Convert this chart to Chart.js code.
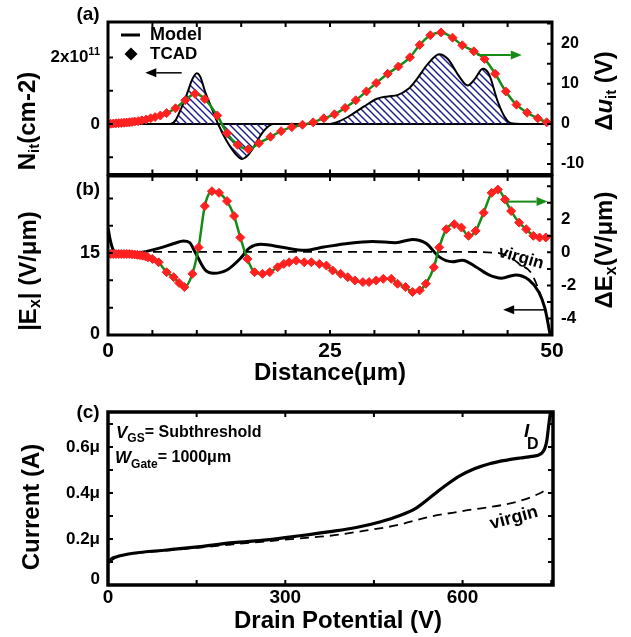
<!DOCTYPE html>
<html>
<head>
<meta charset="utf-8">
<script src="https://cdn.jsdelivr.net/npm/chart.js@4.4.1/dist/chart.umd.min.js"></script>
<style>
  body { margin: 0; background: #fff; }
  #wrap { position: relative; width: 631px; height: 637px; }
  canvas { position: absolute; left: 0; }
</style>
</head>
<body>
<div id="wrap">
  <canvas id="chartA" width="631" height="180" style="top:0"></canvas>
  <canvas id="chartB" width="631" height="215" style="top:170px"></canvas>
  <canvas id="chartC" width="631" height="252" style="top:385px"></canvas>
</div>
<script>
// ---- (a) interface trap density (model) and trap potential shift (TCAD)
const nitDist  = [0, 5, 7.0, 7.6, 8.3, 8.9, 9.5, 10.0, 10.4, 10.9, 11.7, 12.4, 13.4, 14.3, 15.1, 15.8, 16.2, 17.5, 18.6, 24.7,
                  26.0, 27.3, 28.8, 30.3, 31.5, 32.6, 33.8, 34.8, 36.0, 37.3, 38.3, 39.5, 40.5, 41.3, 42.2, 42.9, 43.9, 44.7, 45.4, 46.5, 50];
const nitModel = [0, 0, 0, 0.11, 0.51, 0.91, 1.35, 1.53, 1.42, 1.0, 0.46, 0, -0.53, -0.88, -1.05, -0.93, -0.78, -0.22, 0, 0,
                  0.08, 0.26, 0.52, 0.76, 0.83, 0.87, 1.05, 1.36, 1.8, 2.10, 1.95, 1.45, 1.16, 1.35, 1.66, 1.5, 0.67, 0.2, 0.02, 0, 0]; // x1e11 cm-2
const duDist = [0, 0.3, 0.6, 0.9, 1.2, 1.5, 1.8, 2.1, 2.4, 2.7, 3.0, 3.4, 3.8, 4.3, 4.8, 5.3, 5.9, 6.6, 7.6, 8.7, 9.8, 10.9,
                12.3, 13.4, 14.6, 15.8, 17.0, 18.3, 19.5, 20.7, 21.9, 23.1, 24.3, 25.5, 26.7, 27.9, 29.1, 30.2, 31.5, 32.7,
                34.0, 35.1, 36.3, 37.5, 38.8, 39.9, 41.2, 42.4, 43.6, 44.8, 46.0, 47.2, 48.4, 49.4];
const duTcad = [0, 0.05, 0.1, 0.15, 0.2, 0.25, 0.3, 0.35, 0.4, 0.5, 0.6, 0.7, 0.9, 1.1, 1.4, 1.7, 2.1, 2.7, 3.9, 5.9, 7.5, 6.2,
                2.1, -2.3, -5.2, -6.3, -4.8, -3.2, -1.8, -0.8, -0.2, 0.4, 1.4, 2.4, 4.0, 5.9, 8.1, 10.2, 12.5, 14.3,
                16.6, 19.7, 22.1, 22.8, 21.5, 19.6, 18.1, 16.2, 12.5, 8.1, 4.8, 2.8, 1.4, 0.4];

// ---- (b) lateral field, stressed model vs virgin, and TCAD difference
const exDist  = [0, 0.25, 0.6, 1.2, 3.2, 5.8, 7.5, 8.5, 9.2, 9.8, 10.9, 11.9, 13.4, 14.9, 16.0, 17.2, 19.8, 22.1, 24.3,
                 27.2, 29.8, 32.4, 34.3, 35.8, 37.3, 38.8, 39.9, 41.4, 42.9, 44.3, 45.9, 47.4, 48.5, 49.2, 49.8];
const exModel = [19.6, 17.4, 15.5, 14.9, 15.0, 15.9, 16.8, 17.2, 16.9, 15.2, 12.0, 11.3, 11.9, 14.0, 16.0, 16.6, 16.0, 15.5, 16.1,
                 16.8, 17.1, 16.9, 17.5, 16.8, 14.3, 13.4, 13.7, 12.5, 11.0, 10.4, 11.0, 10.1, 7.9, 4.9, 0];
const virginDist = [0, 10, 20, 30, 40, 44.0, 45.5, 46.5, 47.6, 48.5, 49.2, 49.8];
const virginEx   = [15.2, 15.2, 15.2, 15.2, 15.2, 15.0, 14.0, 12.8, 11.5, 8.3, 4.9, 0];
const dExDist = [0, 0.3, 0.6, 0.9, 1.2, 1.5, 1.8, 2.1, 2.4, 2.7, 3.0, 3.3, 3.6, 3.9, 4.2, 4.5, 5.0, 5.7, 6.6, 7.4, 8.0, 8.6,
                 9.5, 10.2, 10.9, 11.7, 12.5, 13.4, 14.2, 14.9, 15.7, 16.5, 17.4, 18.2, 19.1, 19.8, 20.4, 21.2, 22.1, 22.9,
                 23.8, 24.6, 25.3, 26.2, 27.0, 27.8, 28.7, 29.4, 30.2, 31.0, 31.9, 32.6, 33.5, 34.3, 35.1, 35.8, 36.7, 37.3,
                 38.1, 39.0, 39.8, 40.6, 41.4, 42.3, 43.2, 43.9, 44.7, 45.4, 46.3, 47.1, 47.9, 48.6, 49.3];
const dExTcad = [-0.1, -0.1, -0.1, -0.1, -0.1, -0.1, -0.1, -0.1, -0.1, -0.12, -0.13, -0.15, -0.17, -0.2, -0.23, -0.3, -0.4, -0.6,
                 -1.2, -1.5, -1.85, -2.1, -1.3, 0.3, 2.8, 3.7, 3.6, 3.1, 2.2, 0.9, -0.4, -1.2, -1.3, -1.2, -0.9, -0.7, -0.6,
                 -0.5, -0.6, -0.6, -0.7, -0.8, -1.1, -1.3, -1.5, -1.7, -1.8, -1.8, -1.7, -1.6, -1.6, -1.9, -2.1, -2.4, -2.3,
                 -1.9, -0.9, 0.3, 1.4, 1.7, 1.5, 1.0, 1.3, 2.4, 3.6, 3.8, 3.2, 2.5, 1.8, 1.4, 1.0, 0.9, 0.9];

// ---- (c) drain current vs drain potential (uA)
const drainV     = [0, 5, 15, 43, 99, 156, 212, 269, 325, 376, 420, 460, 494, 520, 545, 570, 596, 620, 647, 675, 697, 717, 734, 742, 746, 749];
const idStressed = [0.095, 0.112, 0.123, 0.138, 0.152, 0.167, 0.184, 0.196, 0.214, 0.232, 0.25, 0.274, 0.302, 0.332, 0.38,
                    0.43, 0.475, 0.505, 0.528, 0.543, 0.552, 0.559, 0.573, 0.62, 0.70, 0.76];
const virginV    = [0, 15, 43, 99, 156, 212, 269, 325, 376, 432, 489, 545, 602, 692, 731, 740];
const idVirgin   = [0.095, 0.122, 0.136, 0.150, 0.163, 0.177, 0.190, 0.203, 0.214, 0.235, 0.260, 0.297, 0.322, 0.362, 0.399, 0.413];

// tick positions
const distTicks = [0, 5, 10, 15, 20, 25, 30, 35, 40, 45, 50];
const distLabels = [0, 25, 50];
const nitTicks = [-1e11, 0, 1e11, 2e11];
const duTicks = [-10, -5, 0, 5, 10, 15, 20, 25];
const duLabels = [-10, 0, 10, 20];
const exTicks = [0, 5, 10, 15, 20, 25];
const exLabels = [0, 15];
const dExTicks = [-4, -3, -2, -1, 0, 1, 2, 3, 4];
const dExLabels = [-4, -2, 0, 2];
const vTicks = [0, 150, 300, 450, 600, 750];
const vLabels = [0, 300, 600];
const iTicks = [0, 0.1e-6, 0.2e-6, 0.3e-6, 0.4e-6, 0.5e-6, 0.6e-6, 0.7e-6];
const iLabels = [0, 0.2e-6, 0.4e-6, 0.6e-6];

const FONT = '"Liberation Sans", Arial, sans-serif';
const bold = s => `bold ${s}px ${FONT}`;
const ital = s => `italic bold ${s}px ${FONT}`;
const RED = '#ff2020', GREEN = '#168c16', NAVY = '#1b1b8e';

function pts(xs, ys, k) { return xs.map((x, i) => ({ x: x, y: ys[i] * (k || 1) })); }

// text made of pieces with their own font and vertical shift
function rich(ctx, parts, x, y, align, angle) {
  ctx.save();
  ctx.translate(x, y);
  ctx.rotate(angle || 0);
  ctx.textBaseline = 'middle';
  ctx.textAlign = 'left';
  let w = 0;
  parts.forEach(p => { ctx.font = p[1]; w += ctx.measureText(p[0]).width; });
  let cx = align === 'center' ? -w / 2 : align === 'right' ? -w : 0;
  ctx.fillStyle = '#000';
  parts.forEach(p => {
    ctx.font = p[1];
    ctx.fillText(p[0], cx, p[2] || 0);
    cx += ctx.measureText(p[0]).width;
  });
  ctx.restore();
}

function frame(ctx, a, lw) {
  ctx.strokeStyle = '#000';
  ctx.lineWidth = lw || 3;
  ctx.strokeRect(a.left, a.top, a.right - a.left, a.bottom - a.top);
}

function ticks(chart, id, values, side, len) {
  const ctx = chart.ctx, a = chart.chartArea, s = chart.scales[id];
  ctx.strokeStyle = '#000';
  ctx.lineWidth = 2;
  ctx.beginPath();
  values.forEach(v => {
    const p = s.getPixelForValue(v);
    if (side === 'left') { ctx.moveTo(a.left, p); ctx.lineTo(a.left + len, p); }
    if (side === 'right') { ctx.moveTo(a.right, p); ctx.lineTo(a.right - len, p); }
    if (side === 'top') { ctx.moveTo(p, a.top); ctx.lineTo(p, a.top + len); }
    if (side === 'bottom') { ctx.moveTo(p, a.bottom); ctx.lineTo(p, a.bottom - len); }
  });
  ctx.stroke();
}

function arrow(ctx, x1, y1, x2, y2, color, lw) {
  const ang = Math.atan2(y2 - y1, x2 - x1), hl = 11, hw = 4.5;
  const bx = x2 - hl * Math.cos(ang), by = y2 - hl * Math.sin(ang);
  ctx.strokeStyle = color;
  ctx.fillStyle = color;
  ctx.lineWidth = lw;
  ctx.beginPath(); ctx.moveTo(x1, y1); ctx.lineTo(bx, by); ctx.stroke();
  ctx.beginPath();
  ctx.moveTo(x2, y2);
  ctx.lineTo(bx + hw * Math.sin(ang), by - hw * Math.cos(ang));
  ctx.lineTo(bx - hw * Math.sin(ang), by + hw * Math.cos(ang));
  ctx.closePath();
  ctx.fill();
}

function hatch(ctx) {
  const s = 7, c = document.createElement('canvas');
  c.width = s; c.height = s;
  const g = c.getContext('2d');
  g.strokeStyle = NAVY;
  g.lineWidth = 1.4;
  g.beginPath();
  g.moveTo(-1, -1); g.lineTo(s + 1, s + 1);
  g.moveTo(-1, s - 1); g.lineTo(1, s + 1);
  g.moveTo(s - 1, -1); g.lineTo(s + 1, 1);
  g.stroke();
  return ctx.createPattern(c, 'repeat');
}

function baseOptions(pad, scales) {
  return {
    responsive: false,
    animation: false,
    events: [],
    layout: { padding: pad },
    plugins: { legend: { display: false }, tooltip: { enabled: false } },
    scales: scales
  };
}

const tcadStyle = {
  borderColor: GREEN, borderWidth: 2.5, cubicInterpolationMode: 'monotone',
  pointStyle: 'rectRot', pointRadius: 4.5, pointBackgroundColor: RED, pointBorderColor: RED, pointBorderWidth: 1
};

// ---------------- (a)
const ctxA = document.getElementById('chartA').getContext('2d');
new Chart(ctxA, {
  type: 'line',
  data: {
    datasets: [
      Object.assign({ label: 'TCAD', data: pts(duDist, duTcad), yAxisID: 'y2' }, tcadStyle),
      { label: 'Model', data: pts(nitDist, nitModel, 1e11), yAxisID: 'y', borderColor: '#000', borderWidth: 2,
        pointRadius: 0, cubicInterpolationMode: 'monotone', fill: 'origin', backgroundColor: hatch(ctxA) }
    ]
  },
  options: baseOptions({ left: 108, right: 79, top: 22, bottom: 4 }, {
    x: { type: 'linear', min: 0, max: 50, display: false },
    y: { min: -1.52e11, max: 3.07e11, display: false },
    y2: { position: 'right', min: -12.6, max: 25.4, display: false }
  }),
  plugins: [{
    id: 'panelA',
    beforeDatasetsDraw(chart) {
      const ctx = chart.ctx, a = chart.chartArea, y0 = chart.scales.y.getPixelForValue(0);
      ctx.save();
      ctx.strokeStyle = '#000'; ctx.lineWidth = 2;
      ctx.beginPath(); ctx.moveTo(a.left, y0); ctx.lineTo(a.right, y0); ctx.stroke();
      ctx.restore();
    },
    afterDraw(chart) {
      const ctx = chart.ctx, a = chart.chartArea, sc = chart.scales;
      ctx.save();
      frame(ctx, a);
      ticks(chart, 'x', distTicks, 'top', 5);
      ticks(chart, 'x', distTicks, 'bottom', 5);
      ticks(chart, 'y', nitTicks, 'left', 5);
      ticks(chart, 'y2', duTicks, 'right', 5);
      rich(ctx, [['0', bold(17)]], a.left - 8, sc.y.getPixelForValue(0), 'right');
      rich(ctx, [['2x10', bold(17)], ['11', bold(11), -6]], a.left - 8, sc.y.getPixelForValue(2e11), 'right');
      duLabels.forEach(v => rich(ctx, [[String(v), bold(16)]], a.right + 9, sc.y2.getPixelForValue(v), 'left'));
      rich(ctx, [['N', bold(24)], ['it', bold(15), 7], ['(cm-2)', bold(24)]], 28, a.top + 99, 'center', -Math.PI / 2);
      rich(ctx, [['\u0394', bold(24)], ['u', ital(24)], ['it', bold(15), 7], [' (V)', bold(24)]], a.right + 53, a.top + 69, 'center', -Math.PI / 2);
      rich(ctx, [['(a)', bold(19)]], a.left - 20, a.top - 7, 'center');
      // legend
      ctx.strokeStyle = '#000'; ctx.lineWidth = 3;
      ctx.beginPath(); ctx.moveTo(a.left + 13, a.top + 13); ctx.lineTo(a.left + 32, a.top + 13); ctx.stroke();
      rich(ctx, [['Model', bold(18)]], a.left + 42, a.top + 13, 'left');
      const dx = a.left + 23, dy = a.top + 32, r = 6.5;
      ctx.fillStyle = '#000';
      ctx.beginPath(); ctx.moveTo(dx - r, dy); ctx.lineTo(dx, dy - r); ctx.lineTo(dx + r, dy); ctx.lineTo(dx, dy + r); ctx.closePath(); ctx.fill();
      rich(ctx, [['TCAD', bold(17)]], a.left + 42, a.top + 32, 'left');
      // axis pointers
      const ya = sc.y.getPixelForValue(1.54e11);
      arrow(ctx, sc.x.getPixelForValue(8.3), ya, sc.x.getPixelForValue(4.2), ya, '#000', 1.5);
      const yg = sc.y2.getPixelForValue(17.2);
      arrow(ctx, sc.x.getPixelForValue(41.6), yg, sc.x.getPixelForValue(46.6), yg, GREEN, 2);
      ctx.restore();
    }
  }]
});

// ---------------- (b)
new Chart(document.getElementById('chartB'), {
  type: 'line',
  data: {
    datasets: [
      Object.assign({ label: 'TCAD', data: pts(dExDist, dExTcad), yAxisID: 'y2' }, tcadStyle),
      { label: 'Model', data: pts(exDist, exModel), yAxisID: 'y', borderColor: '#000', borderWidth: 3,
        pointRadius: 0, cubicInterpolationMode: 'monotone' },
      { label: 'virgin', data: pts(virginDist, virginEx), yAxisID: 'y', borderColor: '#000', borderWidth: 1.8,
        borderDash: [9, 6], pointRadius: 0, cubicInterpolationMode: 'monotone' }
    ]
  },
  options: baseOptions({ left: 108, right: 79, top: 6, bottom: 50 }, {
    x: { type: 'linear', min: 0, max: 50, display: false },
    y: { min: 0, max: 29.1, display: false },
    y2: { position: 'right', min: -5.0, max: 4.62, display: false }
  }),
  plugins: [{
    id: 'panelB',
    afterDraw(chart) {
      const ctx = chart.ctx, a = chart.chartArea, sc = chart.scales;
      ctx.save();
      frame(ctx, a);
      ticks(chart, 'x', distTicks, 'top', 5);
      ticks(chart, 'x', distTicks, 'bottom', 5);
      ticks(chart, 'y', exTicks, 'left', 5);
      ticks(chart, 'y2', dExTicks, 'right', 5);
      exLabels.forEach(v => rich(ctx, [[String(v), bold(18)]], a.left - 8, sc.y.getPixelForValue(v) - (v === 0 ? 1 : 0), 'right'));
      dExLabels.forEach(v => rich(ctx, [[String(v), bold(17)]], a.right + 9, sc.y2.getPixelForValue(v), 'left'));
      distLabels.forEach(v => rich(ctx, [[String(v), bold(21)]], sc.x.getPixelForValue(v), a.bottom + 16, 'center'));
      rich(ctx, [['Distance(\u03bcm)', bold(24)]], 330, a.bottom + 38, 'center');
      rich(ctx, [['|E', bold(24)], ['x', bold(16), 7], ['| (V/\u03bcm)', bold(24)]], 29, a.top + 95, 'center', -Math.PI / 2);
      rich(ctx, [['\u0394E', bold(24)], ['x', bold(16), 7], ['(V/\u03bcm)', bold(24)]], a.right + 53, a.top + 74, 'center', -Math.PI / 2);
      rich(ctx, [['(b)', bold(19)]], a.left - 20, a.top + 14, 'center');
      rich(ctx, [['virgin', bold(17)]], 521, a.top + 82, 'center', 16 * Math.PI / 180);
      const yg = sc.y2.getPixelForValue(3.07);
      arrow(ctx, sc.x.getPixelForValue(45.0), yg, sc.x.getPixelForValue(49.5), yg, GREEN, 2);
      const yb = sc.y.getPixelForValue(4.6);
      arrow(ctx, sc.x.getPixelForValue(49.1), yb, sc.x.getPixelForValue(44.5), yb, '#000', 1.5);
      ctx.restore();
    }
  }]
});

// ---------------- (c)
new Chart(document.getElementById('chartC'), {
  type: 'line',
  data: {
    datasets: [
      { label: 'I_D', data: pts(drainV, idStressed, 1e-6), borderColor: '#000', borderWidth: 3.2,
        pointRadius: 0, cubicInterpolationMode: 'monotone' },
      { label: 'virgin', data: pts(virginV, idVirgin, 1e-6), borderColor: '#000', borderWidth: 1.8,
        borderDash: [9, 6], pointRadius: 0, cubicInterpolationMode: 'monotone' }
    ]
  },
  options: baseOptions({ left: 108, right: 78, top: 27, bottom: 52 }, {
    x: { type: 'linear', min: 0, max: 753, display: false },
    y: { min: 0, max: 0.752e-6, display: false }
  }),
  plugins: [{
    id: 'panelC',
    afterDraw(chart) {
      const ctx = chart.ctx, a = chart.chartArea, sc = chart.scales;
      ctx.save();
      frame(ctx, a, 3.5);
      ticks(chart, 'x', vTicks, 'top', 5);
      ticks(chart, 'x', vTicks, 'bottom', 5);
      ticks(chart, 'y', iTicks, 'left', 5);
      ticks(chart, 'y', iTicks, 'right', 5);
      iLabels.forEach(v => {
        const t = v === 0 ? '0' : (v * 1e6).toFixed(1) + '\u03bc';
        rich(ctx, [[t, bold(17)]], a.left - 8, sc.y.getPixelForValue(v) - (v === 0 ? 6 : 0), 'right');
      });
      vLabels.forEach(v => rich(ctx, [[String(v), bold(19)]], sc.x.getPixelForValue(v), a.bottom + 13, 'center'));
      rich(ctx, [['Drain Potential (V)', bold(24)]], 338, a.bottom + 36, 'center');
      rich(ctx, [['Current (A)', bold(24)]], 32, a.top + 95, 'center', -Math.PI / 2);
      rich(ctx, [['(c)', bold(19)]], a.left - 20, a.top + 1, 'center');
      rich(ctx, [['V', ital(17)], ['GS', bold(12), 6], ['= Subthreshold', bold(16)]], a.left + 8, a.top + 21, 'left');
      rich(ctx, [['W', ital(17)], ['Gate', bold(12), 7], ['= 1000\u03bcm', bold(16)]], a.left + 7, a.top + 46, 'left');
      rich(ctx, [['I', ital(19)]], 524, a.top + 20, 'left');
      rich(ctx, [['D', bold(16)]], 527, a.top + 33, 'left');
      rich(ctx, [['virgin', bold(18)]], 514, a.top + 106, 'center', -15 * Math.PI / 180);
      ctx.restore();
    }
  }]
});
</script>
</body>
</html>
